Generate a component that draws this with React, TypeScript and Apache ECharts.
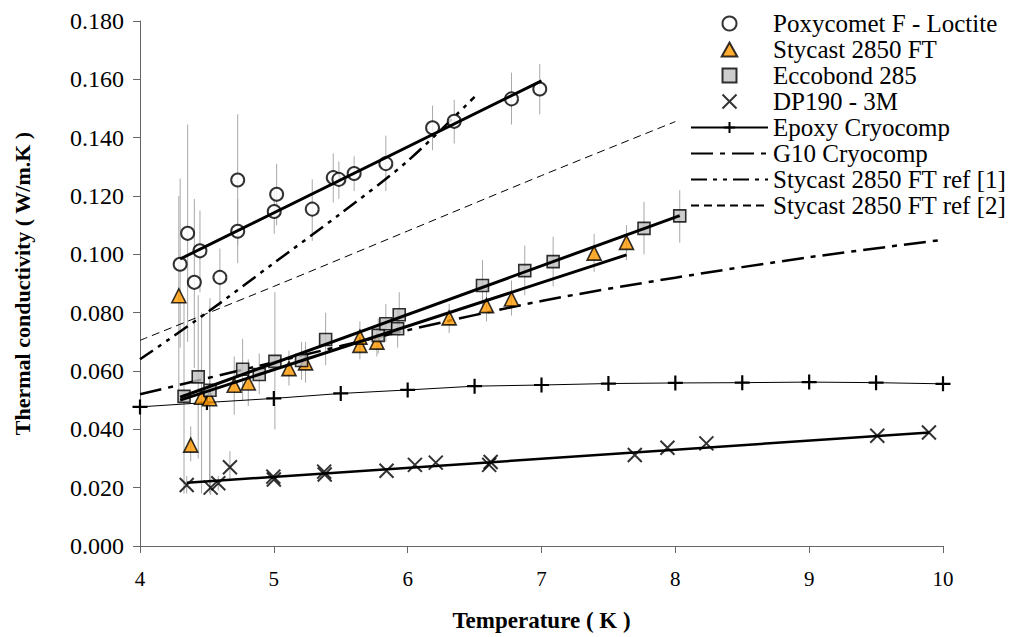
import React, { useEffect, useRef } from "react";
import * as echarts from "echarts";

// ---- Data (Temperature K, Thermal conductivity W/m.K) ----
const poxycomet: number[][] = [
  [4.30, 0.0966], [4.356, 0.1072], [4.406, 0.0904], [4.448, 0.1012], [4.597, 0.0921],
  [4.73, 0.1255], [4.73, 0.1079], [5.003, 0.1147], [5.021, 0.1206], [5.287, 0.1155],
  [5.444, 0.1263], [5.486, 0.1257], [5.60, 0.1277], [5.837, 0.1311], [6.186, 0.1434],
  [6.348, 0.1456], [6.776, 0.1533], [6.987, 0.1567],
];
const poxycometErr: number[][] = [
  [4.30, 0.068, 0.126], [4.356, 0.070, 0.1445], [4.406, 0.061, 0.119], [4.448, 0.087, 0.115], [4.597, 0.082, 0.102],
  [4.73, 0.103, 0.148], [4.73, 0.097, 0.119], [5.003, 0.107, 0.122], [5.021, 0.110, 0.131], [5.287, 0.1046, 0.1257],
  [5.444, 0.1178, 0.1346], [5.486, 0.119, 0.1318], [5.60, 0.1217, 0.1336], [5.837, 0.1217, 0.1407], [6.186, 0.1357, 0.151],
  [6.348, 0.138, 0.153], [6.776, 0.1445, 0.1623], [6.987, 0.148, 0.1653],
];
const poxycometFit: number[][] = [[4.30, 0.0984], [7.0, 0.1595]];

const stycast: number[][] = [
  [4.29, 0.0858], [4.379, 0.0346], [4.46, 0.051], [4.52, 0.0505], [4.704, 0.0551],
  [4.809, 0.0559], [5.113, 0.0608], [5.237, 0.0628], [5.643, 0.0688], [5.643, 0.0716],
  [5.77, 0.0699], [6.31, 0.0782], [6.589, 0.0824], [6.776, 0.0847], [7.393, 0.1004],
  [7.635, 0.1041],
];
const stycastErr: number[][] = [
  [4.29, 0.052, 0.120], [4.379, 0.029, 0.041], [4.46, 0.018, 0.080], [4.52, 0.018, 0.082], [4.704, 0.045, 0.065],
  [4.809, 0.048, 0.064], [5.113, 0.055, 0.067], [5.237, 0.056, 0.070], [5.643, 0.064, 0.074], [5.643, 0.066, 0.077],
  [5.77, 0.065, 0.075], [6.31, 0.073, 0.083], [6.589, 0.077, 0.088], [6.776, 0.079, 0.091], [7.393, 0.094, 0.107],
  [7.635, 0.098, 0.110],
];
const stycastFit: number[][] = [[4.30, 0.050], [7.635, 0.0998]];

const eccobond: number[][] = [
  [4.329, 0.0513], [4.435, 0.058], [4.523, 0.0534], [4.767, 0.0606], [4.891, 0.0588],
  [5.008, 0.0633], [5.207, 0.0636], [5.387, 0.0708], [5.78, 0.0722], [5.837, 0.0762],
  [5.925, 0.0745], [5.937, 0.0793], [6.559, 0.0893], [6.875, 0.0944], [7.087, 0.0975],
  [7.766, 0.1089], [8.033, 0.1132],
];
const eccobondErr: number[][] = [
  [4.329, 0.018, 0.085], [4.435, 0.030, 0.086], [4.523, 0.020, 0.085], [4.767, 0.050, 0.071], [4.891, 0.052, 0.066],
  [5.008, 0.040, 0.087], [5.207, 0.057, 0.070], [5.387, 0.062, 0.080], [5.78, 0.066, 0.078], [5.837, 0.070, 0.083],
  [5.925, 0.068, 0.081], [5.937, 0.072, 0.087], [6.559, 0.081, 0.098], [6.875, 0.086, 0.103], [7.087, 0.089, 0.106],
  [7.766, 0.100, 0.118], [8.033, 0.104, 0.122],
];
const eccobondFit: number[][] = [[4.30, 0.051], [8.033, 0.1133]];

const dp190: number[][] = [
  [4.349, 0.0209], [4.528, 0.0200], [4.585, 0.0215], [4.672, 0.027], [4.996, 0.0238],
  [5.0, 0.0228], [5.376, 0.0255], [5.38, 0.0245], [5.842, 0.0258], [6.054, 0.0278],
  [6.21, 0.0286], [6.609, 0.0278], [6.62, 0.0288], [7.697, 0.0312], [7.941, 0.0337],
  [8.232, 0.0352], [9.509, 0.0378], [9.895, 0.0389],
];
const dp190Err: number[][] = [
  [4.349, 0.018, 0.024], [4.528, 0.0175, 0.0235], [4.585, 0.019, 0.024], [4.672, 0.0222, 0.0325],
];
const dp190Fit: number[][] = [[4.35, 0.0217], [9.9, 0.0389]];

const epoxyCryocomp: number[][] = [
  [4, 0.0477], [4.5, 0.0492], [5, 0.0506], [5.5, 0.0523], [6, 0.0535], [6.5, 0.0548], [7, 0.0552],
  [7.5, 0.0557], [8, 0.0559], [8.5, 0.056], [9, 0.0562], [9.5, 0.056], [10, 0.0556],
];
const g10Cryocomp: number[][] = [
  [4, 0.052], [5, 0.063], [6, 0.074], [7, 0.084], [8, 0.092], [9, 0.099], [10, 0.105],
];
const stycastRef1: number[][] = [
  [4, 0.064], [4.5, 0.080], [5, 0.097], [5.5, 0.114], [6, 0.132], [6.5, 0.154],
];
const stycastRef2: number[][] = [
  [4, 0.0705], [5, 0.089], [6, 0.108], [7, 0.127], [8, 0.1455],
];

const xTicks = { min: 4, max: 10, interval: 1 };
const yTicks = { min: 0, max: 0.18, interval: 0.02 };

const legendNames = [
  "Poxycomet F - Loctite",
  "Stycast 2850 FT",
  "Eccobond 285",
  "DP190 - 3M",
  "Epoxy Cryocomp",
  "G10 Cryocomp",
  "Stycast 2850 FT ref [1]",
  "Stycast 2850 FT ref [2]",
];

const FONT = "'Liberation Serif', 'Times New Roman', serif";
const X_PATH = "path://M0,0L10,10M10,0L0,10";
const PLUS_PATH = "path://M5,0L5,10M0,5L10,5";
const TRI_PATH = "path://M5,0L10,9L0,9Z";
const SQ_PATH = "path://M0,0L10,0L10,10L0,10Z";
const NO_SYMBOL_STYLE = { color: "rgba(0,0,0,0)", borderWidth: 0 };

function errSeries(name: string, data: number[][]) {
  return {
    name,
    type: "custom",
    data,
    z: 1,
    encode: { x: 0, y: [1, 2] },
    silent: true,
    renderItem: (_params: any, api: any) => {
      const x = api.value(0);
      const p1 = api.coord([x, api.value(1)]);
      const p2 = api.coord([x, api.value(2)]);
      return {
        type: "line",
        shape: { x1: p1[0], y1: p1[1], x2: p2[0], y2: p2[1] },
        style: { stroke: "#a8a8a8", lineWidth: 1 },
      };
    },
  };
}

function fitSeries(name: string, data: number[][], width = 3) {
  return {
    name,
    type: "line",
    data,
    z: 5,
    showSymbol: false,
    symbol: "none",
    silent: true,
    lineStyle: { color: "#000", width },
  };
}

export default function App() {
  const ref = useRef<HTMLDivElement>(null);
  useEffect(() => {
    if (!ref.current) return;
    const chart = echarts.init(ref.current, null, { renderer: "svg" });
    const option: any = {
      animation: false,
      backgroundColor: "#fff",
      textStyle: { fontFamily: FONT },
      grid: { left: 140, right: 80, top: 21, bottom: 89, containLabel: false },
      legend: {
        data: legendNames,
        orient: "vertical",
        left: 685,
        top: 6,
        itemWidth: 77,
        itemHeight: 14,
        itemGap: 1,
        selectedMode: false,
        textStyle: { fontFamily: FONT, fontSize: 25, color: "#000" },
      },
      xAxis: {
        type: "value",
        ...xTicks,
        name: "Temperature ( K )",
        nameLocation: "middle",
        nameGap: 63,
        nameTextStyle: { fontFamily: FONT, fontSize: 23, fontWeight: "bold", color: "#000" },
        axisLine: { lineStyle: { color: "#666", width: 1 } },
        axisTick: { show: true, length: 7, lineStyle: { color: "#666" } },
        axisLabel: { fontFamily: FONT, fontSize: 21, color: "#000", margin: 22 },
        splitLine: { show: false },
      },
      yAxis: {
        type: "value",
        ...yTicks,
        name: "Thermal conductivity ( W/m.K )",
        nameLocation: "middle",
        nameGap: 107,
        nameTextStyle: { fontFamily: FONT, fontSize: 22, fontWeight: "bold", color: "#000" },
        axisLine: { show: true, lineStyle: { color: "#666", width: 1 } },
        axisTick: { show: true, length: 7, lineStyle: { color: "#666" } },
        axisLabel: {
          fontFamily: FONT,
          fontSize: 24,
          color: "#000",
          margin: 16,
          formatter: (v: number) => v.toFixed(3),
        },
        splitLine: { show: false },
      },
      series: [
        errSeries("err-poxy", poxycometErr),
        errSeries("err-stycast", stycastErr),
        errSeries("err-eccobond", eccobondErr),
        errSeries("err-dp190", dp190Err),
        {
          name: "Epoxy Cryocomp",
          type: "line",
          data: epoxyCryocomp,
          z: 2,
          symbol: PLUS_PATH,
          symbolSize: 15,
          showSymbol: true,
          lineStyle: { color: "#000", width: 1 },
          itemStyle: { color: "rgba(0,0,0,0)", borderColor: "#000", borderWidth: 2.2 },
        },
        {
          name: "G10 Cryocomp",
          type: "line",
          data: g10Cryocomp,
          z: 2,
          smooth: 0.3,
          symbol: "none",
          showSymbol: false,
          itemStyle: NO_SYMBOL_STYLE,
          lineStyle: { color: "#000", width: 2.5, type: [22, 7, 5, 7] },
        },
        {
          name: "Stycast 2850 FT ref [1]",
          type: "line",
          data: stycastRef1,
          z: 2,
          smooth: 0.3,
          symbol: "none",
          showSymbol: false,
          itemStyle: NO_SYMBOL_STYLE,
          lineStyle: { color: "#000", width: 2.5, type: [16, 6, 4, 6, 4, 6] },
        },
        {
          name: "Stycast 2850 FT ref [2]",
          type: "line",
          data: stycastRef2,
          z: 2,
          smooth: 0.3,
          symbol: "none",
          showSymbol: false,
          itemStyle: NO_SYMBOL_STYLE,
          lineStyle: { color: "#000", width: 1, type: [8, 5] },
        },
        {
          name: "Poxycomet F - Loctite",
          type: "scatter",
          data: poxycomet,
          z: 3,
          symbol: "circle",
          symbolSize: 13,
          itemStyle: { color: "#fff", borderColor: "#000", borderWidth: 2 },
        },
        {
          name: "Stycast 2850 FT",
          type: "scatter",
          data: stycast,
          z: 3,
          symbol: TRI_PATH,
          symbolSize: 14,
          itemStyle: { color: "#FF9900", borderColor: "#000", borderWidth: 1.6 },
        },
        {
          name: "Eccobond 285",
          type: "scatter",
          data: eccobond,
          z: 3,
          symbol: SQ_PATH,
          symbolSize: 12,
          itemStyle: { color: "#C0C0C0", borderColor: "#000", borderWidth: 1.6 },
        },
        {
          name: "DP190 - 3M",
          type: "scatter",
          data: dp190,
          z: 3,
          symbol: X_PATH,
          symbolSize: 14,
          itemStyle: { color: "rgba(0,0,0,0)", borderColor: "#000", borderWidth: 2 },
        },
        fitSeries("fit-poxy", poxycometFit),
        fitSeries("fit-stycast", stycastFit),
        fitSeries("fit-eccobond", eccobondFit),
        fitSeries("fit-dp190", dp190Fit, 2.5),
      ],
    };
    chart.setOption(option);
    return () => chart.dispose();
  }, []);
  return <div ref={ref} style={{ width: 1023, height: 637, position: "absolute", left: 0, top: 0 }} />;
}
